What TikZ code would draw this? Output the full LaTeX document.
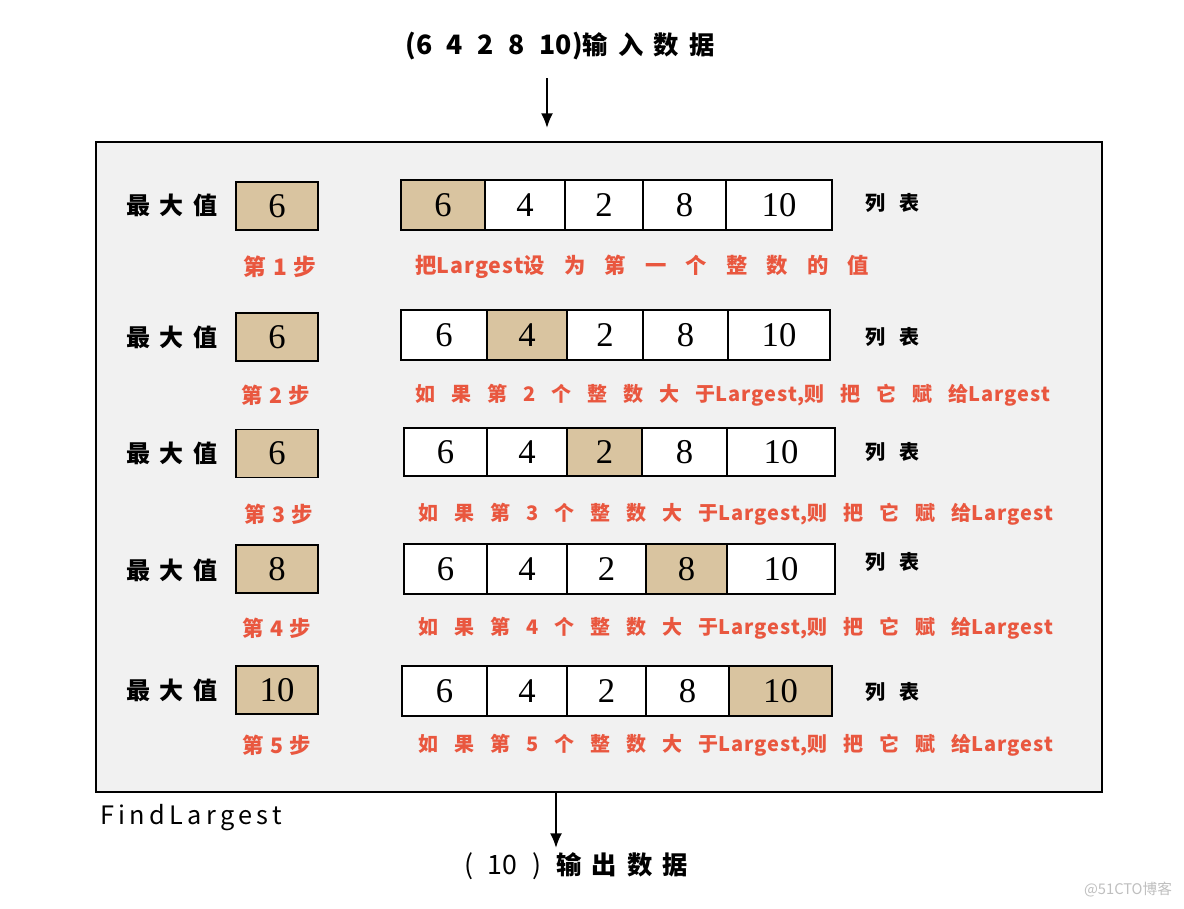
\documentclass[tikz,border=0pt]{standalone}
\usepackage{fontspec}
\usetikzlibrary{arrows.meta}
\newfontfamily\zh{Noto Sans CJK SC}
\newfontfamily\zhA[LetterSpace=40]{Noto Sans CJK SC}
\newfontfamily\zhB[LetterSpace=70]{Noto Sans CJK SC}
\newfontfamily\zhC[LetterSpace=30]{Noto Sans CJK SC}
\newfontfamily\zhT[LetterSpace=40]{Noto Sans CJK SC}
\newfontfamily\zhE[LetterSpace=90]{Noto Sans CJK SC}
\newfontfamily\zhF[LetterSpace=17]{Noto Sans CJK SC}
\newfontfamily\zhG[LetterSpace=80]{Noto Sans CJK SC}
\newfontfamily\zhL[LetterSpace=5]{Noto Sans CJK SC}
\newfontfamily\numf{Liberation Serif}
\definecolor{tanc}{HTML}{D9C4A0}
\definecolor{redc}{HTML}{E9573F}
\definecolor{bgc}{HTML}{F1F1F1}
\def\getxs#1/#2/#3/#4/#5/#6\relax{\def\xA{#1}\def\xB{#2}\def\xC{#3}\def\xD{#4}\def\xE{#5}\def\xF{#6}}
\newcommand\cellat[8]{%
  \ifnum#2=#8\relax\def\cf{tanc}\else\def\cf{white}\fi
  \pgfmathsetmacro\cw{(#4-#3)*0.75}\pgfmathsetmacro\ch{(#6-#5)*0.75}%
  \node[cell, fill=\cf, minimum width=\cw pt, minimum height=\ch pt] (c#1-#2) at ({(#3+#4)/2},{(#5+#6)/2}) {#7};}
\newcommand\lrow[5]{\getxs#5\relax
  \cellat{#1}{1}{\xA}{\xB}{#2}{#3}{6}{#4}%
  \cellat{#1}{2}{\xB}{\xC}{#2}{#3}{4}{#4}%
  \cellat{#1}{3}{\xC}{\xD}{#2}{#3}{2}{#4}%
  \cellat{#1}{4}{\xD}{\xE}{#2}{#3}{8}{#4}%
  \cellat{#1}{5}{\xE}{\xF}{#2}{#3}{10}{#4}}
\begin{document}
\begin{tikzpicture}[x=0.75pt,y=-0.75pt,
  cell/.style={draw=black, line width=1.4pt, inner sep=0pt, font=\numf\fontsize{26}{26}\selectfont},
  maxbox/.style={cell, fill=tanc, minimum width=61.5pt, minimum height=36pt},
  lbl/.style={font=\zhA\bfseries\fontsize{18}{18}\selectfont, text=black, inner sep=0pt},
  listlbl/.style={font=\zhB\bfseries\fontsize{15}{15}\selectfont, text=black, inner sep=0pt},
  steplbl/.style={font=\zhC\bfseries\fontsize{16}{16}\selectfont, text=redc, inner sep=0pt},
  desc/.style={font=\zhG\bfseries\fontsize{15}{15}\selectfont, text=redc, anchor=west, inner sep=0pt},
  arr/.style={-{Latex[length=11pt,width=9pt]}, line width=1.5pt}]
\useasboundingbox[fill=white] (0,0) rectangle (1184,908);
% main frame
\node[draw=black, line width=1.5pt, fill=bgc, minimum width=754.5pt, minimum height=487.5pt, inner sep=0pt] (main) at (599,467) {};
% input / output
\node[font=\zhT\bfseries\fontsize{19}{19}\selectfont, inner sep=0pt] (in) at (560,46) {{\zh\fontsize{20}{20}\selectfont(6\hspace{0.55em}4\hspace{0.55em}2\hspace{0.55em}8\hspace{0.55em}10)}输入数据};
\coordinate (inS) at (547,78);
\coordinate (inE) at (547,128);
\draw[arr] (inS) -- (inE);
\node[font=\zhF\fontsize{19}{19}\selectfont, anchor=west, inner sep=0pt] (fl) at (100,818) {FindLargest};
\node[font=\zhT\bfseries\fontsize{19}{19}\selectfont, inner sep=0pt] (out) at (576,866) {{\zh\mdseries\fontsize{20}{20}\selectfont(\hspace{0.55em}10\hspace{0.55em})}\hspace{0.6em}输出数据};
\coordinate (outE) at (556,848);
\draw[arr] (main.south -| outE) -- (outE);
% rows
\lrow{1}{180}{230}{1}{401/485/565/643/726/832}
\lrow{2}{310}{360}{2}{401/487/567/643/728/830}
\lrow{3}{428}{476}{3}{404/487/567/642/727/835}
\lrow{4}{544}{594}{4}{404/487/567/646/727/835}
\lrow{5}{666}{716}{5}{402/487/567/646/729/832}
% max boxes
\node[maxbox] (m1) at (277,206) {6};
\node[maxbox] (m2) at (277,337) {6};
\node[maxbox] (m3) at (277,453.5) {6};
\node[maxbox] (m4) at (277,569) {8};
\node[maxbox] (m5) at (277,690) {10};
% labels
\foreach \i/\y in {1/205,2/337,3/453,4/570,5/690}
  \node[lbl] (L\i) at (172,\y) {最大值};
\foreach \i/\y in {1/203,2/337,3/452,4/562,5/692}
  \node[listlbl] (T\i) at (892,\y) {列表};
% steps
\node[steplbl, font=\zhC\bfseries\fontsize{17}{17}\selectfont] (s1) at (280,267) {第1步};
\node[steplbl] (s2) at (276,395) {第2步};
\node[steplbl] (s3) at (279,514) {第3步};
\node[steplbl] (s4) at (277,628) {第4步};
\node[steplbl] (s5) at (277,745) {第5步};
\node[desc, font=\zhE\bfseries\fontsize{16}{16}\selectfont] (d1) at (415,267) {把{\zhL Largest}设为第一个整数的值};
\node[desc] (d2) at (415,395) {如果第2个整数大于{\zhL Largest,}则把它赋给{\zhL Largest}};
\node[desc] (d3) at (418,514) {如果第3个整数大于{\zhL Largest,}则把它赋给{\zhL Largest}};
\node[desc] (d4) at (418,628) {如果第4个整数大于{\zhL Largest,}则把它赋给{\zhL Largest}};
\node[desc] (d5) at (418,745) {如果第5个整数大于{\zhL Largest,}则把它赋给{\zhL Largest}};
% watermark
\node[font=\zh\fontsize{11}{11}\selectfont, text=black!25, inner sep=0pt] (wm) at (1128,890) {@51CTO博客};
\end{tikzpicture}
\end{document}
